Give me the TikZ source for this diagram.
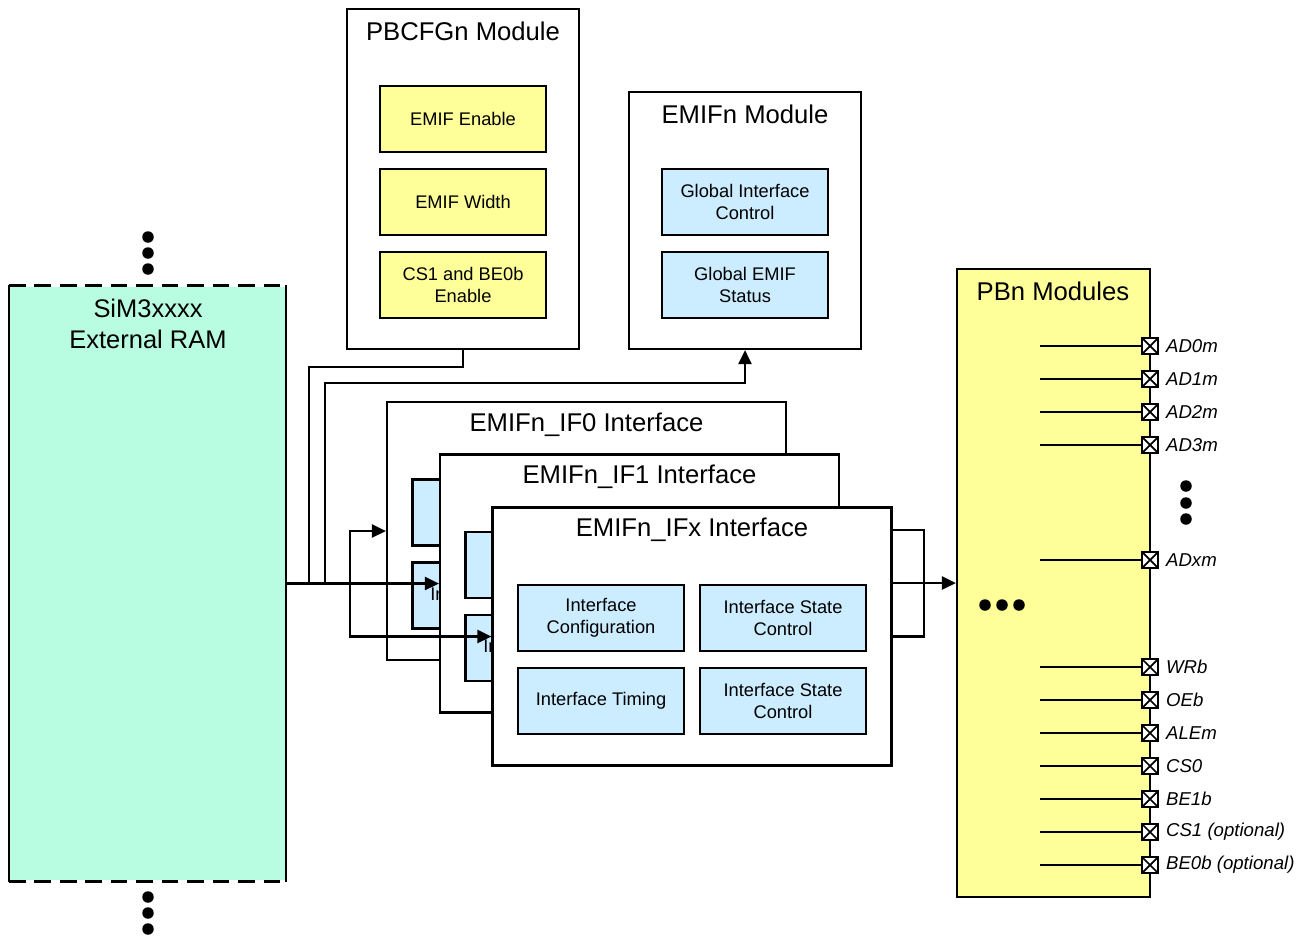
\documentclass[tikz,border=0pt]{standalone}
\usepackage{fontspec}
\setmainfont{Liberation Sans}
\usetikzlibrary{arrows.meta, positioning, calc}
\definecolor{ramgreen}{HTML}{B8FCE2}
\definecolor{cfgyellow}{HTML}{FFFF99}
\definecolor{regblue}{HTML}{CCECFF}

\begin{document}
\begin{tikzpicture}[x=0.02cm, y=-0.02cm, line width=1.3pt,
  >={Triangle[length=8pt, width=7.5pt]},
  modbox/.style={draw, fill=white, inner sep=0pt},
  regbox/.style={draw, minimum width=3.32cm, minimum height=1.32cm, align=center,
                 font=\fontsize{10.4}{12.5}\selectfont, inner sep=1pt},
  titletext/.style={font=\fontsize{14.6}{17}\selectfont},
  pinbox/.style={draw, fill=white, minimum size=0.32cm, inner sep=0pt, line width=1.1pt,
                 path picture={\draw[line width=1pt]
                   (path picture bounding box.south west) -- (path picture bounding box.north east)
                   (path picture bounding box.north west) -- (path picture bounding box.south east);}},
  pinlab/.style={font=\fontsize{10.6}{12}\selectfont\itshape, inner sep=0pt}]

\useasboundingbox (0,0) rectangle (1307,940);

% External RAM
\node[fill=ramgreen, minimum width=5.5cm, minimum height=11.88cm, inner sep=0pt] (ram) at (147.5,583.5) {};
\draw (ram.north west) -- (ram.south west) (ram.north east) -- (ram.south east);
\draw[dash pattern=on 9.5pt off 5pt] (ram.north west) -- (ram.north east);
\draw[dash pattern=on 9.5pt off 5pt] (ram.south west) -- (ram.south east);
\node[font=\fontsize{14.5}{17.6}\selectfont, align=center] (ramtxt) at (148,323.5) {SiM3xxxx\\External RAM};
\foreach \y in {237,253,269,897,913,929}
  \fill (148,\y) circle (0.115cm);

% PBCFGn module
\node[modbox, minimum width=4.64cm, minimum height=6.8cm] (pbcfg) at (463,179) {};
\node[titletext] (pbcfgtitle) at (463,31) {PBCFGn Module};
\node[regbox, fill=cfgyellow] (emifen) at (463,119) {EMIF Enable};
\node[regbox, fill=cfgyellow] (emifwd) at (463,202) {EMIF Width};
\node[regbox, fill=cfgyellow] (csben) at (463,285) {CS1 and BE0b\\Enable};

% EMIFn module
\node[modbox, minimum width=4.64cm, minimum height=5.14cm] (emif) at (745,220.5) {};
\node[titletext] (emiftitle) at (745,114) {EMIFn Module};
\node[regbox, fill=regblue] (gictl) at (745,202) {Global Interface\\Control};
\node[regbox, fill=regblue] (gstat) at (745,285) {Global EMIF\\Status};

% Stacked interfaces (back to front)
\foreach \n/\cx/\cy in {0/586.5/531, 1/639.5/583.5, x/692/636.5} {
  \node[modbox, minimum width=7.98cm, minimum height=5.16cm] (if\n) at (\cx,\cy) {};
  \node[titletext] (if\n-title) at (\cx,\cy-106.5) {EMIFn\_IF\n{} Interface};
  \node[regbox, fill=regblue] (if\n-cfg) at (\cx-91,\cy-18.5) {Interface\\Configuration};
  \node[regbox, fill=regblue] (if\n-stA) at (\cx+91,\cy-18.5) {Interface State\\Control};
  \node[regbox, fill=regblue] (if\n-tim) at (\cx-91,\cy+64.5) {Interface Timing};
  \node[regbox, fill=regblue] (if\n-stB) at (\cx+91,\cy+64.5) {Interface State\\Control};
}

% PBn modules
\node[draw, fill=cfgyellow, minimum width=3.86cm, minimum height=12.56cm, inner sep=0pt] (pbn) at (1053.5,583) {};
\node[titletext] (pbntitle) at (1053,291) {PBn Modules};
\foreach \i/\y/\lab in {0/346/AD0m, 1/379/AD1m, 2/412/AD2m, 3/445/AD3m, 4/560/ADxm,
                        5/667/WRb, 6/700/OEb, 7/733/ALEm, 8/766/CS0, 9/799/BE1b,
                        10/832/CS1 (optional), 11/865/BE0b (optional)} {
  \coordinate (pinin\i) at (1040,\y);
  \node[pinbox] (pin\i) at (1150,\y) {};
  \draw (pinin\i) -- (pin\i.west);
  \node[pinlab, right=0.12cm of pin\i] (pinlab\i) {\lab};
}
\foreach \y in {486,503,519}
  \fill (1186,\y) circle (0.115cm);
\foreach \x in {985,1002,1019}
  \fill (\x,605) circle (0.115cm);

% Connectors
\coordinate (jA) at (309,583.5);
\coordinate (jB) at (325,583.5);
\coordinate (jC) at (350,583.5);
\coordinate (bendA) at (309,367);
\coordinate (bendB) at (745,383);
\coordinate (outT) at (924,530);
\coordinate (outB) at (924,636.5);

\draw (pbcfg.south) |- (bendA) -- (jA);
\draw[->] (jB) |- (bendB) -- (emif.south);
\draw[->] (ram.east) -- (if1.west);
\draw[->] (jC) |- (if0.west);
\draw[->] (jC) |- (ifx.west);
\draw (ifx.east |- outT) -- (outT) -- (outB) -- (ifx.east);
\draw[->] (ifx.east |- pbn.west) -- (pbn.west);

\end{tikzpicture}
\end{document}
